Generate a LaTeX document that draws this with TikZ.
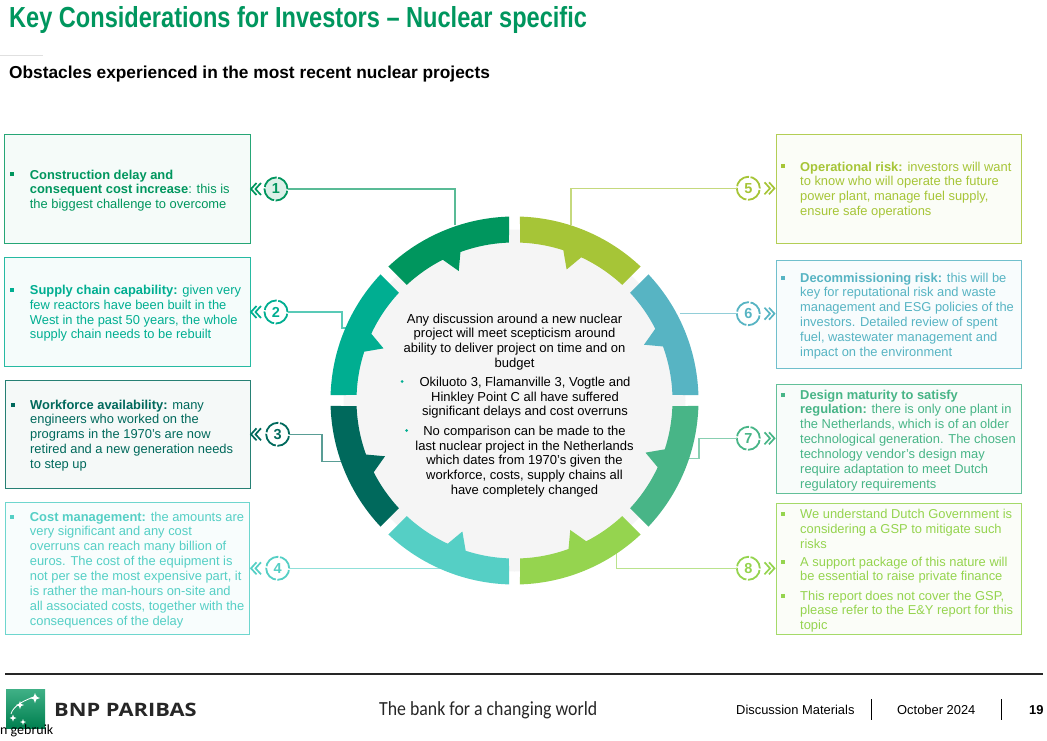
\documentclass[tikz,border=0pt]{standalone}
\usepackage{fontspec}
\setmainfont{Liberation Sans}
\newfontfamily\carlito{Carlito}
\newfontfamily\opensans{Open Sans}
\usetikzlibrary{shapes.geometric}
\definecolor{cA}{HTML}{00965E}
\definecolor{cB}{HTML}{00AE91}
\definecolor{cC}{HTML}{00695C}
\definecolor{cD}{HTML}{55CFC5}
\definecolor{cE}{HTML}{A6C537}
\definecolor{cF}{HTML}{57B4C3}
\definecolor{cG}{HTML}{48B587}
\definecolor{cH}{HTML}{95D44F}
\newcommand{\bodyfont}{\fontsize{12.9}{14.85}\selectfont}
\newcommand{\midfont}{\fontsize{13}{14.75}\selectfont}
\tikzset{
  x=1pt,y=1pt,
  infobox/.style={draw=#1!85,line width=0.9pt,fill=#1!4,inner sep=0pt,outer sep=0pt,anchor=north west},
  boxtext/.style={anchor=north west,inner sep=0pt,align=left,font=\bodyfont,text=#1},
  midtext/.style={anchor=north,inner sep=0pt,align=center,font=\midfont,text=black},
  numdot/.style={circle,draw=#1,line width=1.8pt,minimum size=23pt,inner sep=0pt,outer sep=0pt,
     dash pattern=on 16.5pt off 1.6pt,dash phase=0.8pt,fill=white,text=#1,font=\bfseries\fontsize{14.5}{16}\selectfont},
  link/.style={draw=#1!65,line width=1.1pt},
  chev/.style={draw=#1,line width=1.7pt},
}
\newcommand{\sqbullet}[3]{\fill[#1] (#2-2,-#3+2.5) rectangle (#2+2,-#3+6.5);}
\newcommand{\ringseg}[2]{%
  \pgfmathsetmacro{\sa}{#1+1.71}\pgfmathsetmacro{\sb}{#1+43.29}
  \pgfmathsetmacro{\ia}{#1+43}\pgfmathsetmacro{\ib}{#1+27}
  \pgfmathsetmacro{\ic}{#1+23.3}\pgfmathsetmacro{\id}{#1+20}\pgfmathsetmacro{\ie}{#1+2}
  \fill[#2] (\sa:184) arc[start angle=\sa,end angle=\sb,radius=184pt]
    -- (\ia:158) arc[start angle=\ia,end angle=\ib,radius=158pt]
    -- (\ic:141) -- (\id:158) arc[start angle=\id,end angle=\ie,radius=158pt] -- cycle;}
\newcommand{\chevL}[3]{\draw[chev=#1] (#2+5.5,-#3+6) -- (#2,-#3) -- (#2+5.5,-#3-6);
  \draw[chev=#1] (#2+10,-#3+6) -- (#2+4.5,-#3) -- (#2+10,-#3-6);}
\newcommand{\chevR}[3]{\draw[chev=#1] (#2-5.5,-#3+6) -- (#2,-#3) -- (#2-5.5,-#3-6);
  \draw[chev=#1] (#2-10,-#3+6) -- (#2-4.5,-#3) -- (#2-10,-#3-6);}
\begin{document}
\begin{tikzpicture}
\useasboundingbox (0,0) rectangle (1047,-741);
\node[anchor=base west,inner sep=0pt,text=cA] (title) at (9,-28)
  {\scalebox{0.813}[1]{\bfseries\fontsize{29}{32}\selectfont Key Considerations for Investors – Nuclear specific}};
\draw[black!12,line width=0.8pt] (0,-55) -- (43,-55);
\node[anchor=base west,inner sep=0pt] (sub) at (9,-79)
  {\bfseries\fontsize{17.3}{20}\selectfont Obstacles experienced in the most recent nuclear projects};
% boxes
\node[infobox=cA,minimum width=245.5pt,minimum height=108.5pt] (b1) at (4.5,-134.5) {};
\node[infobox=cB,minimum width=245.5pt,minimum height=108.5pt] (b2) at (4.5,-257.5) {};
\node[infobox=cC,minimum width=245pt,minimum height=108.5pt] (b3) at (5,-380) {};
\node[infobox=cD,minimum width=244.5pt,minimum height=132pt] (b4) at (5,-502.5) {};
\node[infobox=cE,minimum width=245pt,minimum height=108.5pt] (b5) at (776,-134.5) {};
\node[infobox=cF,minimum width=245pt,minimum height=108pt] (b6) at (776,-260) {};
\node[infobox=cG,minimum width=245pt,minimum height=108.5pt] (b7) at (776,-384.5) {};
\node[infobox=cH,minimum width=245pt,minimum height=131pt] (b8) at (776,-503.5) {};
% box texts
\node[boxtext=cA] (t1) at (29.7,-168.5) {\strut\textbf{Construction delay and}\\\textbf{consequent cost increase}: this is\\the biggest challenge to overcome};
\node[boxtext=cB] (t2) at (29.7,-283.8) {\strut\textbf{Supply chain capability:} given very\\few reactors have been built in the\\West in the past 50 years, the whole\\supply chain needs to be rebuilt};
\node[boxtext=cC] (t3) at (30,-398.5) {\strut\textbf{Workforce availability:} many\\engineers who worked on the\\programs in the 1970’s are now\\retired and a new generation needs\\to step up};
\node[boxtext=cD] (t4) at (29.7,-510.5) {\strut\textbf{Cost management:} the amounts are\\very significant and any cost\\overruns can reach many billion of\\euros. The cost of the equipment is\\not per se the most expensive part, it\\is rather the man-hours on-site and\\all associated costs, together with the\\consequences of the delay};
\node[boxtext=cE] (t5) at (800,-160.5) {\strut\textbf{Operational risk:} investors will want\\to know who will operate the future\\power plant, manage fuel supply,\\ensure safe operations};
\node[boxtext=cF] (t6) at (800,-271.5) {\strut\textbf{Decommissioning risk:} this will be\\key for reputational risk and waste\\management and ESG policies of the\\investors. Detailed review of spent\\fuel, wastewater management and\\impact on the environment};
\node[boxtext=cG] (t7) at (800,-388.5) {\strut\textbf{Design maturity to satisfy}\\\textbf{regulation:} there is only one plant in\\the Netherlands, which is of an older\\technological generation. The chosen\\technology vendor’s design may\\require adaptation to meet Dutch\\regulatory requirements};
\node[boxtext=cH] (t8a) at (800,-507.8) {\strut We understand Dutch Government is\\considering a GSP to mitigate such\\risks};
\node[boxtext=cH] (t8b) at (800,-555.5) {\strut A support package of this nature will\\be essential to raise private finance};
\node[boxtext=cH] (t8c) at (800,-589.5) {\strut This report does not cover the GSP,\\please refer to the E\&Y report for this\\topic};
% bullets
\sqbullet{cA}{12.3}{179}\sqbullet{cB}{12.3}{294.3}\sqbullet{cC}{12.8}{409}\sqbullet{cD}{12.3}{521}
\sqbullet{cE}{783}{171}\sqbullet{cF}{783}{282}\sqbullet{cG}{783}{399}
\sqbullet{cH}{783}{518.3}\sqbullet{cH}{783}{566}\sqbullet{cH}{783}{600}
% connector end points (under the ring)
\coordinate (r1) at (455,-225);
\coordinate (k2) at (342,-328); \coordinate (r2) at (350,-328);
\coordinate (k3) at (322,-461.5); \coordinate (r3) at (350,-461.5);
\coordinate (r4) at (445,-568.3);
\coordinate (r5) at (571,-225);
\coordinate (r6) at (680,-313.7);
\coordinate (k7) at (699,-458.3); \coordinate (r7) at (685,-458.3);
\coordinate (r8) at (616.5,-548);
% number circles
\node[numdot=cA,fill=cA!14] (c1) at (276,-189) {1};
\node[numdot=cB] (c2) at (276,-312) {2};
\node[numdot=cC] (c3) at (277.7,-434.3) {3};
\node[numdot=cD] (c4) at (277.7,-568.3) {4};
\node[numdot=cE] (c5) at (748.3,-188.3) {5};
\node[numdot=cF] (c6) at (748.3,-313.7) {6};
\node[numdot=cG] (c7) at (748.3,-438.3) {7};
\node[numdot=cH] (c8) at (748.3,-568.3) {8};
\chevL{cA}{251}{189}\chevL{cB}{251}{312}\chevL{cC}{251}{434.3}\chevL{cD}{251}{568.3}
\chevR{cE}{774.5}{188.3}\chevR{cF}{774.5}{313.7}\chevR{cG}{774.5}{438.3}\chevR{cH}{774.5}{568.3}
\draw[link=cA] (c1.east) -| (r1);
\draw[link=cB] (c2.east) -| (k2) -- (r2);
\draw[link=cC] (c3.east) -| (k3) -- (r3);
\draw[link=cD] (c4.east) -- (r4);
\draw[link=cE] (c5.west) -| (r5);
\draw[link=cF] (c6.west) -- (r6);
\draw[link=cG] (c7.west) -| (k7) -- (r7);
\draw[link=cH] (c8.west) -| (r8);
% ring
\begin{scope}[shift={(514.5,-400.5)}]
\fill[black!4] (0,0) circle[radius=171pt];
\ringseg{90}{cA}
\ringseg{135}{cB}
\ringseg{180}{cC}
\ringseg{225}{cD}
\ringseg{270}{cH}
\ringseg{315}{cG}
\ringseg{0}{cF}
\ringseg{45}{cE}
\end{scope}
% centre text
\node[midtext] (m1) at (514.5,-312.6) {\strut Any discussion around a new nuclear\\project will meet scepticism around\\ability to deliver project on time and on\\budget};
\node[midtext] (m2) at (525,-375.9) {\strut Okiluoto 3, Flamanville 3, Vogtle and\\Hinkley Point C all have suffered\\significant delays and cost overruns};
\node[midtext] (m3) at (524.5,-424.9) {\strut No comparison can be made to the\\last nuclear project in the Netherlands\\which dates from 1970’s given the\\workforce, costs, supply chains all\\have completely changed};
\fill[cB] (402,-381.5) circle[radius=1.5pt];
\fill[cB] (406.7,-430.5) circle[radius=1.5pt];
% footer
\draw[black!85,line width=1.1pt] (5,-674) -- (1043,-674);
\shade[bottom color=cA!85!black,top color=cA!75!white] (6,-689) rectangle (45,-728);
\node[star,star points=4,star point ratio=2.6,fill=white,inner sep=0pt,minimum size=10pt] (s1) at (35,-698) {};
\node[star,star points=4,star point ratio=2.6,fill=white,inner sep=0pt,minimum size=8pt] (s2) at (20,-705) {};
\node[star,star points=4,star point ratio=2.6,fill=white,inner sep=0pt,minimum size=7pt] (s3) at (13,-718) {};
\node[star,star points=4,star point ratio=2.6,fill=white,inner sep=0pt,minimum size=6pt] (s4) at (23,-722) {};
\draw[white,line width=0.8pt] (11,-714) .. controls (13,-706) and (24,-700) .. (37,-696);
\node[anchor=base west,inner sep=0pt,text=black!85] (bnp) at (54,-716)
  {\scalebox{1.18}[1]{\opensans\bfseries\fontsize{18.5}{20}\selectfont BNP PARIBAS}};
\node[anchor=base west,inner sep=0pt,text=black!85] (tag) at (379,-715)
  {\scalebox{0.89}[1]{\carlito\fontsize{20}{22}\selectfont The bank for a changing world}};
\node[anchor=base west,inner sep=0pt] (f1) at (736,-714) {\fontsize{12.9}{14}\selectfont Discussion Materials};
\draw[black,line width=0.9pt] (871,-699) -- (871,-720);
\node[anchor=base west,inner sep=0pt] (f2) at (897,-714) {\fontsize{12.9}{14}\selectfont October 2024};
\draw[black,line width=0.9pt] (1001,-699) -- (1001,-720);
\node[anchor=base west,inner sep=0pt] (f3) at (1029,-714) {\bfseries\fontsize{12.9}{14}\selectfont 19};
\node[anchor=base west,inner sep=0pt,text=black] (ng) at (0,-734) {\carlito\fontsize{14}{16}\selectfont n gebruik};
\end{tikzpicture}
\end{document}
